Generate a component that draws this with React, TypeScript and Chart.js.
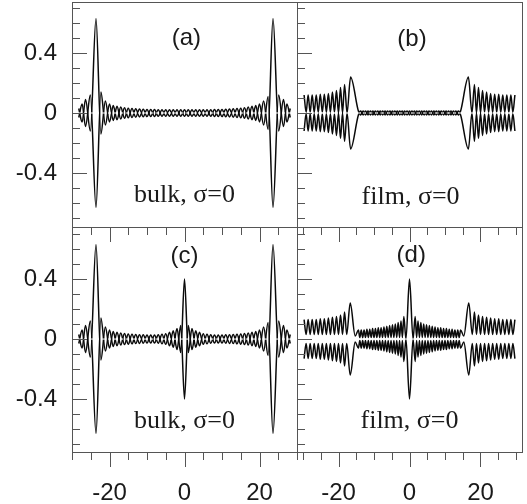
import React, { useEffect, useRef } from 'react';
import { Chart, registerables } from 'chart.js';
Chart.register(...registerables);

// ---------- data (extrema of the upper curve; lower curve is its mirror) ----------
const xsBulk = [-28.2,-27.3,-26.4,-25.1,-23.6,-22.3,-21.1,-20.0,-19.0,-18,-17,-16,-15,-14,-13,-12,-11,-10,-9,-8,-7,-6,-5,-4,-3,-2,-1,0,1,2,3,4,5,6,7,8,9,10,11,12,13,14,15,16,17,18,19.0,20.0,21.1,22.3,23.6,25.1,26.4,27.3,28.2];

const fA = [0.03,-0.06,0.09,-0.12,0.63,-0.14,0.08,-0.06,0.05,-0.045,0.04,-0.035,0.032,-0.03,0.028,-0.026,0.025,-0.024,0.023,-0.023,0.022,-0.022,0.022,-0.022,0.022,-0.022,0.022,-0.022,0.022,-0.022,0.022,-0.022,0.022,-0.022,0.022,-0.023,0.023,-0.024,0.025,-0.026,0.028,-0.03,0.032,-0.035,0.04,-0.045,0.05,-0.06,0.08,-0.11,0.63,-0.12,0.09,-0.06,0.03];

const fC = [0.03,-0.06,0.09,-0.12,0.63,-0.14,0.08,-0.06,0.05,-0.045,0.04,-0.037,0.034,-0.032,0.03,-0.029,0.028,-0.027,0.027,-0.027,0.028,-0.032,0.035,-0.045,0.055,-0.07,0.09,-0.40,0.09,-0.07,0.055,-0.045,0.035,-0.032,0.028,-0.027,0.027,-0.027,0.028,-0.029,0.03,-0.032,0.034,-0.037,0.04,-0.045,0.05,-0.06,0.08,-0.11,0.63,-0.12,0.09,-0.06,0.03];

const xsFilmB = [-29.7,-29.13,-28.56,-27.99,-27.42,-26.85,-26.28,-25.71,-25.14,-24.57,-24.0,-23.43,-22.86,-22.29,-21.72,-21.15,-20.58,-20.01,-19.44,-18.87,-18.3,-17.6,-16.6,-14.4,
-13.75,-13.06,-12.38,-11.69,-11.0,-10.31,-9.63,-8.94,-8.25,-7.56,-6.88,-6.19,-5.5,-4.81,-4.13,-3.44,-2.75,-2.06,-1.38,-0.69,0,0.69,1.38,2.06,2.75,3.44,4.13,4.81,5.5,6.19,6.88,7.56,8.25,8.94,9.63,10.31,11.0,11.69,12.38,13.06,13.75,
14.4,16.6,17.6,18.3,18.87,19.44,20.01,20.58,21.15,21.72,22.29,22.86,23.43,24.0,24.57,25.14,25.71,26.28,26.85,27.42,27.99,28.56,29.13,29.7];

const fB = [0.12,0.005,0.12,0.005,0.12,0.005,0.12,0.005,0.125,0.005,0.125,0.005,0.13,0.005,0.14,0.005,0.15,0.0,0.17,0.0,0.19,0.0,0.24,0.013,
-0.013,0.013,-0.013,0.013,-0.013,0.013,-0.013,0.013,-0.013,0.013,-0.013,0.013,-0.013,0.013,-0.013,0.013,-0.013,0.013,-0.013,0.013,-0.013,0.013,-0.013,0.013,-0.013,0.013,-0.013,0.013,-0.013,0.013,-0.013,0.013,-0.013,0.013,-0.013,0.013,-0.013,0.013,-0.013,0.013,-0.013,
0.013,0.24,0.0,0.19,0.0,0.17,0.0,0.15,0.005,0.14,0.005,0.13,0.005,0.125,0.005,0.125,0.005,0.12,0.005,0.12,0.005,0.12,0.005,0.12];

const xsFilmD = [-29.7,-29.13,-28.56,-27.99,-27.42,-26.85,-26.28,-25.71,-25.14,-24.57,-24.0,-23.43,-22.86,-22.29,-21.72,-21.15,-20.58,-20.01,-19.44,-18.87,-18.3,-17.7,-16.7,-15.3,
-14.4,-14.0,-13.6,-13.2,-12.8,-12.4,-12.0,-11.6,-11.2,-10.8,-10.4,-10.0,-9.6,-9.2,-8.8,-8.4,-8.0,-7.6,-7.2,-6.8,-6.4,-6.0,-5.6,-5.2,-4.8,-4.4,-4.0,-3.6,-3.2,-2.8,-2.4,-2.0,-1.6,
-1.0,0,1.0,
1.6,2.0,2.4,2.8,3.2,3.6,4.0,4.4,4.8,5.2,5.6,6.0,6.4,6.8,7.2,7.6,8.0,8.4,8.8,9.2,9.6,10.0,10.4,10.8,11.2,11.6,12.0,12.4,12.8,13.2,13.6,14.0,14.4,
15.3,16.7,17.7,18.3,18.87,19.44,20.01,20.58,21.15,21.72,22.29,22.86,23.43,24.0,24.57,25.14,25.71,26.28,26.85,27.42,27.99,28.56,29.13,29.7];

const fD = [0.13,0.03,0.13,0.03,0.13,0.03,0.13,0.03,0.135,0.03,0.135,0.03,0.14,0.03,0.145,0.03,0.15,0.03,0.16,0.03,0.18,0.03,0.24,0.02,
0.06,0.01,0.06,0.01,0.06,0.01,0.065,0.01,0.065,0.01,0.07,0.01,0.07,0.01,0.075,0.01,0.075,0.01,0.08,0.01,0.085,0.01,0.09,0.01,0.095,0.01,0.10,0.01,0.11,0.01,0.12,0.01,0.15,
0.0,0.40,0.0,
0.15,0.01,0.12,0.01,0.11,0.01,0.10,0.01,0.095,0.01,0.09,0.01,0.085,0.01,0.08,0.01,0.075,0.01,0.075,0.01,0.07,0.01,0.07,0.01,0.065,0.01,0.065,0.01,0.06,0.01,0.06,0.01,0.06,
0.02,0.24,0.03,0.18,0.03,0.16,0.03,0.15,0.03,0.145,0.03,0.14,0.03,0.135,0.03,0.135,0.03,0.13,0.03,0.13,0.03,0.13,0.03,0.13];

const yMinorTicks = [-0.7,-0.6,-0.5,-0.4,-0.3,-0.2,-0.1,0,0.1,0.2,0.3,0.4,0.5,0.6,0.7];
const yMajorTicks = [-0.4, 0, 0.4];
const xMinorTicks = [-30,-25,-20,-15,-10,-5,0,5,10,15,20,25,30];
const xMajorTicks = [-20, 0, 20];

const panelLabels = ['(a)', '(b)', '(c)', '(d)'];
const panelNotes = ['bulk, σ=0', 'film, σ=0', 'bulk, σ=0', 'film, σ=0'];

// ---------- layout ----------
type Panel = {
  xs: number[]; f: number[]; xMin: number; xMax: number; yMin: number; yMax: number;
  pad: { left: number; right: number; top: number; bottom: number };
  showY: boolean; showX: boolean; label: string; note: string;
  labelAt: [number, number]; noteAt: [number, number];
};

const panels: Panel[] = [
  { xs: xsBulk, f: fA, xMin: -30, xMax: 30, yMin: -0.76, yMax: 0.74,
    pad: { left: 0, right: 230, top: 2, bottom: 277 }, showY: true, showX: false,
    label: panelLabels[0], note: panelNotes[0], labelAt: [0.5, 0.5], noteAt: [0, -0.55] },
  { xs: xsFilmB, f: fB, xMin: -31.7, xMax: 31.7, yMin: -0.76, yMax: 0.74,
    pad: { left: 297, right: 5, top: 2, bottom: 277 }, showY: false, showX: false,
    label: panelLabels[1], note: panelNotes[1], labelAt: [0.7, 0.49], noteAt: [0.3, -0.56] },
  { xs: xsBulk, f: fC, xMin: -30, xMax: 30, yMin: -0.753, yMax: 0.747,
    pad: { left: 0, right: 230, top: 227, bottom: 0 }, showY: true, showX: true,
    label: panelLabels[2], note: panelNotes[2], labelAt: [0, 0.55], noteAt: [0, -0.55] },
  { xs: xsFilmD, f: fD, xMin: -31.7, xMax: 31.7, yMin: -0.753, yMax: 0.747,
    pad: { left: 297, right: 5, top: 227, bottom: 0 }, showY: false, showX: true,
    label: panelLabels[3], note: panelNotes[3], labelAt: [0.5, 0.56], noteAt: [0, -0.55] },
];

const AXIS = '#555';
const TEXT = '#1a1a1a';
const LINE = '#0a0a0a';

const framePlugin = {
  id: 'frameTicks',
  afterDatasetsDraw(chart: any, _args: any, opts: any) {
    const { ctx, chartArea, scales } = chart;
    const { left, top, right, bottom } = chartArea;
    const xs = scales.x, ys = scales.y;
    ctx.save();
    ctx.strokeStyle = AXIS;
    ctx.lineWidth = 1;
    ctx.strokeRect(left + 0.5, top + 0.5, right - left, bottom - top);
    ctx.beginPath();
    for (const v of yMinorTicks) {
      const py = Math.round(ys.getPixelForValue(v)) + 0.5;
      const len = yMajorTicks.includes(v) ? 15 : 8;
      ctx.moveTo(left, py);
      ctx.lineTo(left + len, py);
    }
    for (const v of xMinorTicks) {
      const px = Math.round(xs.getPixelForValue(v)) + 0.5;
      const len = xMajorTicks.includes(v) ? 15 : 8;
      ctx.moveTo(px, bottom);
      ctx.lineTo(px, bottom + len);
    }
    ctx.stroke();
    ctx.fillStyle = TEXT;
    ctx.textAlign = 'center';
    ctx.textBaseline = 'middle';
    ctx.font = '24px "Liberation Sans", Arial, sans-serif';
    ctx.fillText(opts.label, xs.getPixelForValue(opts.labelAt[0]), ys.getPixelForValue(opts.labelAt[1]));
    ctx.font = '26px "Liberation Serif", "Times New Roman", serif';
    ctx.fillText(opts.note, xs.getPixelForValue(opts.noteAt[0]), ys.getPixelForValue(opts.noteAt[1]));
    ctx.restore();
  },
};

function makeChart(canvas: HTMLCanvasElement, p: Panel) {
  const upper = p.xs.map((x, i) => ({ x, y: p.f[i] }));
  const lower = p.xs.map((x, i) => ({ x, y: -p.f[i] }));
  const tickFont = { family: '"Liberation Sans", Arial, sans-serif', size: 24 };
  return new Chart(canvas, {
    type: 'line',
    data: {
      datasets: [
        { data: [{ x: p.xMin, y: 0 }, { x: p.xMax, y: 0 }], borderColor: '#ffffff', borderWidth: 1,
          borderDash: [3, 3], pointRadius: 0, order: 0 },
        { data: upper, borderColor: LINE, borderWidth: 1.5, pointRadius: 0,
          cubicInterpolationMode: 'monotone', order: 1 },
        { data: lower, borderColor: LINE, borderWidth: 1.5, pointRadius: 0,
          cubicInterpolationMode: 'monotone', order: 1 },
      ],
    } as any,
    options: {
      responsive: false,
      animation: false,
      events: [],
      layout: { padding: p.pad },
      plugins: {
        legend: { display: false },
        tooltip: { enabled: false },
        frameTicks: { label: p.label, note: p.note, labelAt: p.labelAt, noteAt: p.noteAt },
      } as any,
      scales: {
        x: {
          type: 'linear', min: p.xMin, max: p.xMax,
          grid: { display: false, drawTicks: false },
          border: { display: false },
          ticks: {
            display: p.showX, font: tickFont, color: TEXT, padding: 27, maxRotation: 0, autoSkip: false,
            callback: (v: any) => (xMajorTicks.includes(v) ? String(v) : null),
          },
          afterBuildTicks: (s: any) => { s.ticks = xMajorTicks.map((v) => ({ value: v })); },
          afterFit: (s: any) => { s.height = p.showX ? 52 : 0; s.paddingLeft = 0; s.paddingRight = 0; },
        },
        y: {
          type: 'linear', min: p.yMin, max: p.yMax,
          grid: { display: false, drawTicks: false },
          border: { display: false },
          ticks: {
            display: p.showY, font: tickFont, color: TEXT, padding: 15, autoSkip: false,
            callback: (v: any) => (yMajorTicks.includes(v) ? String(v) : null),
          },
          afterBuildTicks: (s: any) => { s.ticks = yMajorTicks.map((v) => ({ value: v })); },
          afterFit: (s: any) => { s.width = p.showY ? 72 : 0; s.paddingTop = 0; s.paddingBottom = 0; },
        },
      },
    } as any,
    plugins: [framePlugin],
  });
}

export default function App() {
  const canvases = useRef<(HTMLCanvasElement | null)[]>([]);
  useEffect(() => {
    const charts = panels.map((p, i) => makeChart(canvases.current[i] as HTMLCanvasElement, p));
    return () => charts.forEach((c) => c.destroy());
  }, []);
  return (
    <div style={{ position: 'absolute', left: 0, top: 0, width: 527, height: 504, background: '#fff' }}>
      {panels.map((_, i) => (
        <canvas
          key={i}
          ref={(el) => { canvases.current[i] = el; }}
          width={527}
          height={504}
          style={{ position: 'absolute', left: 0, top: 0 }}
        />
      ))}
    </div>
  );
}
